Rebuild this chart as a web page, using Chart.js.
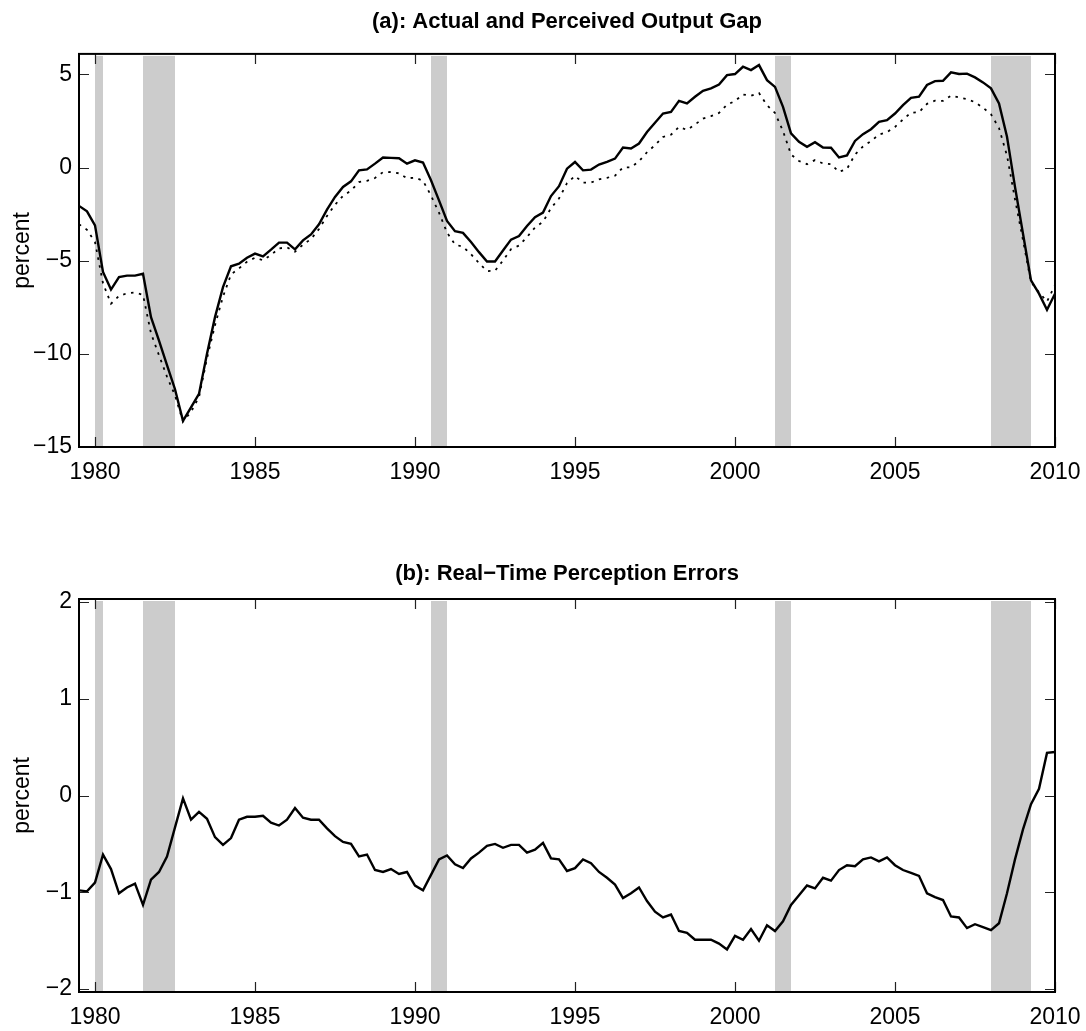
<!DOCTYPE html>
<html lang="en">
<head>
<meta charset="UTF-8">
<title>Actual and Perceived Output Gap</title>
<script src="https://cdn.jsdelivr.net/npm/chart.js"></script>
<style>
    body {
        margin: 0;
        background: #fff;
    }
    .panel {
        width: 1086px;
    }
</style>
</head>
<body>
<div class="panel"><canvas id="gapChart" width="1086" height="515"></canvas></div>
<div class="panel"><canvas id="errorChart" width="1086" height="516"></canvas></div>
<script>
// quarterly observations, 1979Q3 .. 2010Q1
const firstQuarter = 1979.5;

// (a) actual output gap, percent
const actualGap = [
    -2.06, -2.35,
    -3.10, -5.60, -6.55, -5.88,
    -5.80, -5.80, -5.70, -8.03,
    -9.29, -10.60, -11.90, -13.60,
    -12.87, -12.15, -10.00, -8.03,
    -6.42, -5.30, -5.16, -4.84,
    -4.62, -4.77, -4.41, -4.03,
    -4.03, -4.39, -3.91, -3.59,
    -3.05, -2.26, -1.58, -1.04,
    -0.74, -0.15, -0.10, 0.21,
    0.54, 0.52, 0.50, 0.21,
    0.39, 0.27, -0.68, -1.76,
    -2.87, -3.42, -3.51, -4.00,
    -4.54, -5.04, -5.04, -4.45,
    -3.87, -3.68, -3.14, -2.66,
    -2.42, -1.53, -1.00, -0.06,
    0.30, -0.15, -0.11, 0.16,
    0.30, 0.48, 1.07, 1.02,
    1.29, 1.91, 2.40, 2.90,
    2.99, 3.58, 3.44, 3.80,
    4.12, 4.25, 4.46, 4.96,
    5.02, 5.41, 5.23, 5.50,
    4.69, 4.33, 3.26, 1.83,
    1.38, 1.11, 1.36, 1.07,
    1.06, 0.54, 0.65, 1.43,
    1.79, 2.06, 2.45, 2.54,
    2.90, 3.35, 3.74, 3.80,
    4.43, 4.64, 4.66, 5.11,
    5.02, 5.04, 4.84, 4.57,
    4.25, 3.44, 1.65, -1.04,
    -3.55, -6.06, -6.77, -7.63,
    -6.77
];

// (a) perceived (real-time) output gap, percent
const perceivedGap = [
    -3.04, -3.34,
    -4.00, -6.21, -7.31, -6.89,
    -6.75, -6.71, -6.83, -8.90,
    -10.08, -11.23, -12.23, -13.63,
    -13.12, -12.32, -10.24, -8.46,
    -6.93, -5.74, -5.41, -5.06,
    -4.84, -4.98, -4.69, -4.34,
    -4.28, -4.52, -4.14, -3.84,
    -3.30, -2.60, -2.00, -1.52,
    -1.24, -0.78, -0.71, -0.56,
    -0.25, -0.24, -0.31, -0.58,
    -0.54, -0.71, -1.50, -2.42,
    -3.49, -4.13, -4.26, -4.65,
    -5.13, -5.56, -5.54, -4.99,
    -4.38, -4.19, -3.73, -3.22,
    -2.91, -2.18, -1.66, -0.84,
    -0.45, -0.81, -0.81, -0.63,
    -0.55, -0.44, 0.01, 0.01,
    0.34, 0.82, 1.20, 1.64,
    1.76, 2.18, 2.02, 2.31,
    2.63, 2.76, 2.93, 3.37,
    3.57, 3.92, 3.85, 4.00,
    3.35, 2.93, 1.96, 0.70,
    0.35, 0.18, 0.40, 0.22,
    0.18, -0.23, -0.07, 0.70,
    1.13, 1.42, 1.77, 1.90,
    2.18, 2.58, 2.94, 2.97,
    3.42, 3.59, 3.58, 3.86,
    3.76, 3.67, 3.51, 3.21,
    2.86, 2.12, 0.64, -1.70,
    -3.90, -6.15, -6.70, -7.19,
    -6.32
];

// (b) real-time perception errors, percent
const perceptionError = [
    -0.98, -0.99,
    -0.90, -0.61, -0.76, -1.01,
    -0.95, -0.91, -1.13, -0.87,
    -0.79, -0.63, -0.33, -0.03,
    -0.25, -0.17, -0.24, -0.43,
    -0.51, -0.44, -0.25, -0.22,
    -0.22, -0.21, -0.28, -0.31,
    -0.25, -0.13, -0.23, -0.25,
    -0.25, -0.34, -0.42, -0.48,
    -0.50, -0.63, -0.61, -0.77,
    -0.79, -0.76, -0.81, -0.79,
    -0.93, -0.98, -0.82, -0.66,
    -0.62, -0.71, -0.75, -0.65,
    -0.59, -0.52, -0.50, -0.54,
    -0.51, -0.51, -0.59, -0.56,
    -0.49, -0.65, -0.66, -0.78,
    -0.75, -0.66, -0.70, -0.79,
    -0.85, -0.92, -1.06, -1.01,
    -0.95, -1.09, -1.20, -1.26,
    -1.23, -1.40, -1.42, -1.49,
    -1.49, -1.49, -1.53, -1.59,
    -1.45, -1.49, -1.38, -1.50,
    -1.34, -1.40, -1.30, -1.13,
    -1.03, -0.93, -0.96, -0.85,
    -0.88, -0.77, -0.72, -0.73,
    -0.66, -0.64, -0.68, -0.64,
    -0.72, -0.77, -0.80, -0.83,
    -1.01, -1.05, -1.08, -1.25,
    -1.26, -1.37, -1.33, -1.36,
    -1.39, -1.32, -1.01, -0.66,
    -0.35, -0.09, 0.07, 0.44,
    0.45
];

// NBER recessions (shaded)
const recessionStart = [1980.0, 1981.5, 1990.5, 2001.25, 2008.0];
const recessionEnd = [1980.25, 1982.5, 1991.0, 2001.75, 2009.25];

const yearTicks = [1980, 1985, 1990, 1995, 2000, 2005, 2010];
const gapTicks = [-15, -10, -5, 0, 5];
const errorTicks = [-2, -1, 0, 1, 2];

const fontFamily = "'Liberation Sans', Arial, Helvetica, sans-serif";

function toPoints(values) {
    return values.map((v, i) => ({ x: firstQuarter + i * 0.25, y: v }));
}

function minusLabel(value) {
    return value < 0 ? '\u2212' + Math.abs(value) : String(value);
}

// grey recession bands behind the lines, box and inward ticks on top
const matlabAxes = {
    id: 'matlabAxes',
    beforeDatasetsDraw(chart) {
        const { ctx, chartArea: a, scales: { x } } = chart;
        ctx.save();
        ctx.fillStyle = '#cccccc';
        for (let i = 0; i < recessionStart.length; i++) {
            const x0 = x.getPixelForValue(recessionStart[i]);
            const x1 = x.getPixelForValue(recessionEnd[i]);
            ctx.fillRect(x0, a.top + 2, x1 - x0, a.bottom - a.top - 3);
        }
        ctx.restore();
    },
    afterDraw(chart) {
        const { ctx, chartArea: a, scales: { x, y } } = chart;
        ctx.save();
        ctx.strokeStyle = '#222';
        ctx.lineWidth = 1.2;
        ctx.beginPath();
        x.ticks.forEach(t => {
            const px = Math.round(x.getPixelForValue(t.value)) + 0.5;
            ctx.moveTo(px, a.top);
            ctx.lineTo(px, a.top + 10);
            ctx.moveTo(px, a.bottom);
            ctx.lineTo(px, a.bottom - 10);
        });
        y.ticks.forEach(t => {
            const py = Math.round(y.getPixelForValue(t.value)) + 0.5;
            ctx.moveTo(a.left, py);
            ctx.lineTo(a.left + 10, py);
            ctx.moveTo(a.right, py);
            ctx.lineTo(a.right - 10, py);
        });
        ctx.stroke();
        ctx.strokeStyle = '#000';
        ctx.lineWidth = 2;
        ctx.strokeRect(a.left, a.top, a.right - a.left, a.bottom - a.top);
        ctx.restore();
    }
};

function panelOptions(title, titlePadding, yMin, yMax, yTicks, xHeight) {
    return {
        responsive: false,
        animation: false,
        layout: { padding: { left: 0, right: 31, top: 0, bottom: 0 } },
        plugins: {
            legend: { display: false },
            tooltip: { enabled: false },
            title: {
                display: true,
                fullSize: false,
                text: title,
                color: '#000',
                font: { family: fontFamily, size: 22, weight: 'bold' },
                padding: titlePadding
            }
        },
        scales: {
            x: {
                type: 'linear',
                min: 1979.5,
                max: 2010,
                grid: { display: false, drawTicks: false },
                border: { display: false },
                afterBuildTicks: scale => { scale.ticks = yearTicks.map(v => ({ value: v })); },
                afterFit: scale => {
                    scale.height = xHeight;
                    scale.paddingLeft = 0;
                    scale.paddingRight = 0;
                },
                ticks: {
                    color: '#000',
                    padding: 12,
                    maxRotation: 0,
                    font: { family: fontFamily, size: 23 },
                    callback: v => String(v)
                }
            },
            y: {
                min: yMin,
                max: yMax,
                grid: { display: false, drawTicks: false },
                border: { display: false },
                afterBuildTicks: scale => { scale.ticks = yTicks.map(v => ({ value: v })); },
                afterFit: scale => { scale.width = 79; },
                title: {
                    display: true,
                    text: 'percent',
                    color: '#000',
                    font: { family: fontFamily, size: 23 },
                    padding: { top: 9, bottom: 0 }
                },
                ticks: {
                    color: '#000',
                    padding: 7,
                    font: { family: fontFamily, size: 23 },
                    callback: v => minusLabel(v)
                }
            }
        }
    };
}

new Chart(document.getElementById('gapChart'), {
    type: 'line',
    data: {
        datasets: [{
            label: 'Actual',
            data: toPoints(actualGap),
            borderColor: '#000',
            borderWidth: 2.4,
            pointRadius: 0,
            tension: 0
        }, {
            label: 'Perceived',
            data: toPoints(perceivedGap),
            borderColor: '#000',
            borderWidth: 1.8,
            borderDash: [2.5, 5.5],
            pointRadius: 0,
            tension: 0
        }]
    },
    options: panelOptions('(a): Actual and Perceived Output Gap', { top: 9, bottom: 18.5 }, -15, 6.1, gapTicks, 68),
    plugins: [matlabAxes]
});

new Chart(document.getElementById('errorChart'), {
    type: 'line',
    data: {
        datasets: [{
            label: 'Perception error',
            data: toPoints(perceptionError),
            borderColor: '#000',
            borderWidth: 2.4,
            pointRadius: 0,
            tension: 0
        }]
    },
    options: panelOptions('(b): Real\u2212Time Perception Errors', { top: 46, bottom: 11.6 }, -2.03, 2.03, errorTicks, 39),
    plugins: [matlabAxes]
});
</script>
</body>
</html>
